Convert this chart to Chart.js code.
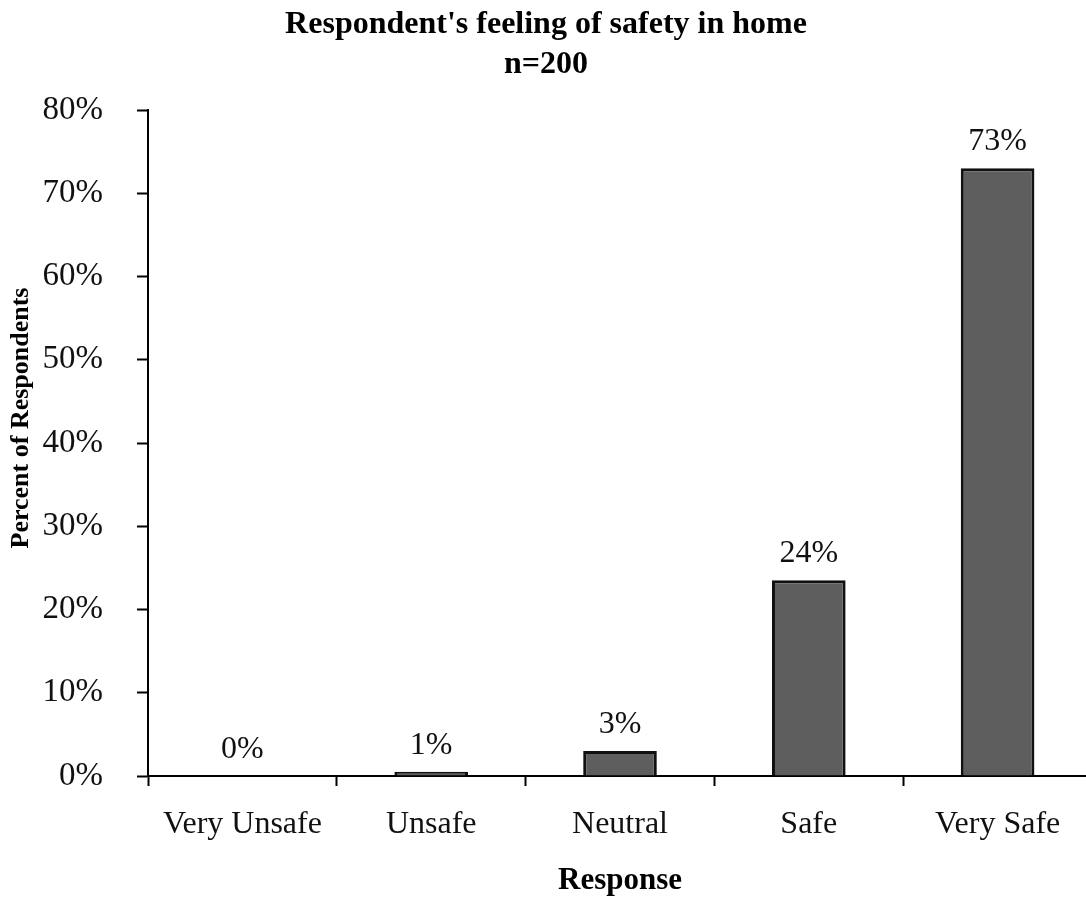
<!DOCTYPE html>
<html>
<head>
<meta charset="utf-8">
<script src="https://cdn.jsdelivr.net/npm/chart.js@4"></script>
<style>
    html, body { margin: 0; padding: 0; background: #fff; overflow: hidden; }
    canvas { display: block; }
</style>
</head>
<body>
<canvas id="safetyChart" width="1092" height="901"></canvas>
<script>
// Respondent's feeling of safety in home (n=200)
const categories = ['Very Unsafe', 'Unsafe', 'Neutral', 'Safe', 'Very Safe'];
const percentValues = [0, 0.5, 3, 23.5, 73];
const valueLabels = ['0%', '1%', '3%', '24%', '73%'];
const yTicks = [0, 10, 20, 30, 40, 50, 60, 70, 80];

const SERIF = "'Liberation Serif', 'Times New Roman', serif";

// percent text above each bar
const barLabels = {
    id: 'barLabels',
    afterDatasetsDraw(chart) {
        const ctx = chart.ctx;
        const meta = chart.getDatasetMeta(0);
        ctx.save();
        ctx.font = `32px ${SERIF}`;
        ctx.fillStyle = '#111';
        ctx.textAlign = 'center';
        ctx.textBaseline = 'alphabetic';
        meta.data.forEach((bar, i) => {
            ctx.fillText(valueLabels[i], bar.x, bar.y - 18);
        });
        ctx.restore();
    }
};

// y axis title sits a bit above the middle of the axis in the original
const yTitle = {
    id: 'yTitle',
    afterDraw(chart) {
        const ctx = chart.ctx;
        ctx.save();
        ctx.translate(21, 418);
        ctx.rotate(-Math.PI / 2);
        ctx.font = `bold 26px ${SERIF}`;
        ctx.fillStyle = '#000';
        ctx.textAlign = 'center';
        ctx.textBaseline = 'middle';
        ctx.fillText('Percent of Respondents', 0, 0);
        ctx.restore();
    }
};

const ctx = document.getElementById('safetyChart').getContext('2d');
new Chart(ctx, {
    type: 'bar',
    data: {
        labels: categories,
        datasets: [{
            data: percentValues,
            backgroundColor: '#5e5e5e',
            borderColor: '#111',
            borderWidth: 3,
            borderSkipped: 'bottom',
            categoryPercentage: 1,
            barPercentage: 0.39
        }]
    },
    options: {
        responsive: false,
        animation: false,
        layout: { padding: 0 },
        plugins: {
            legend: { display: false },
            tooltip: { enabled: false },
            title: {
                display: true,
                text: ["Respondent's feeling of safety in home", 'n=200'],
                color: '#000',
                font: { family: SERIF, size: 32, weight: 'bold', lineHeight: 1.25 },
                padding: { top: 5, bottom: 25 }
            }
        },
        scales: {
            x: {
                afterFit: s => { s.height = 125; },
                grid: {
                    offset: true,
                    drawOnChartArea: false,
                    tickLength: 10,
                    tickColor: '#000',
                    tickWidth: 2
                },
                border: { color: '#000', width: 2 },
                ticks: {
                    color: '#111',
                    padding: 19,
                    font: { family: SERIF, size: 32 }
                },
                title: {
                    display: true,
                    text: 'Response',
                    color: '#000',
                    font: { family: SERIF, size: 31, weight: 'bold' },
                    padding: { top: 0, bottom: 1 }
                }
            },
            y: {
                min: 0,
                max: 80,
                afterFit: s => { s.width = 148; },
                afterBuildTicks: s => { s.ticks = yTicks.map(v => ({ value: v })); },
                grid: {
                    drawOnChartArea: false,
                    tickLength: 11,
                    tickColor: '#000',
                    tickWidth: 2
                },
                border: { color: '#000', width: 2 },
                ticks: {
                    color: '#111',
                    padding: 34,
                    font: { family: SERIF, size: 33 },
                    callback: v => v + '%'
                }
            }
        }
    },
    plugins: [barLabels, yTitle]
});
</script>
</body>
</html>
